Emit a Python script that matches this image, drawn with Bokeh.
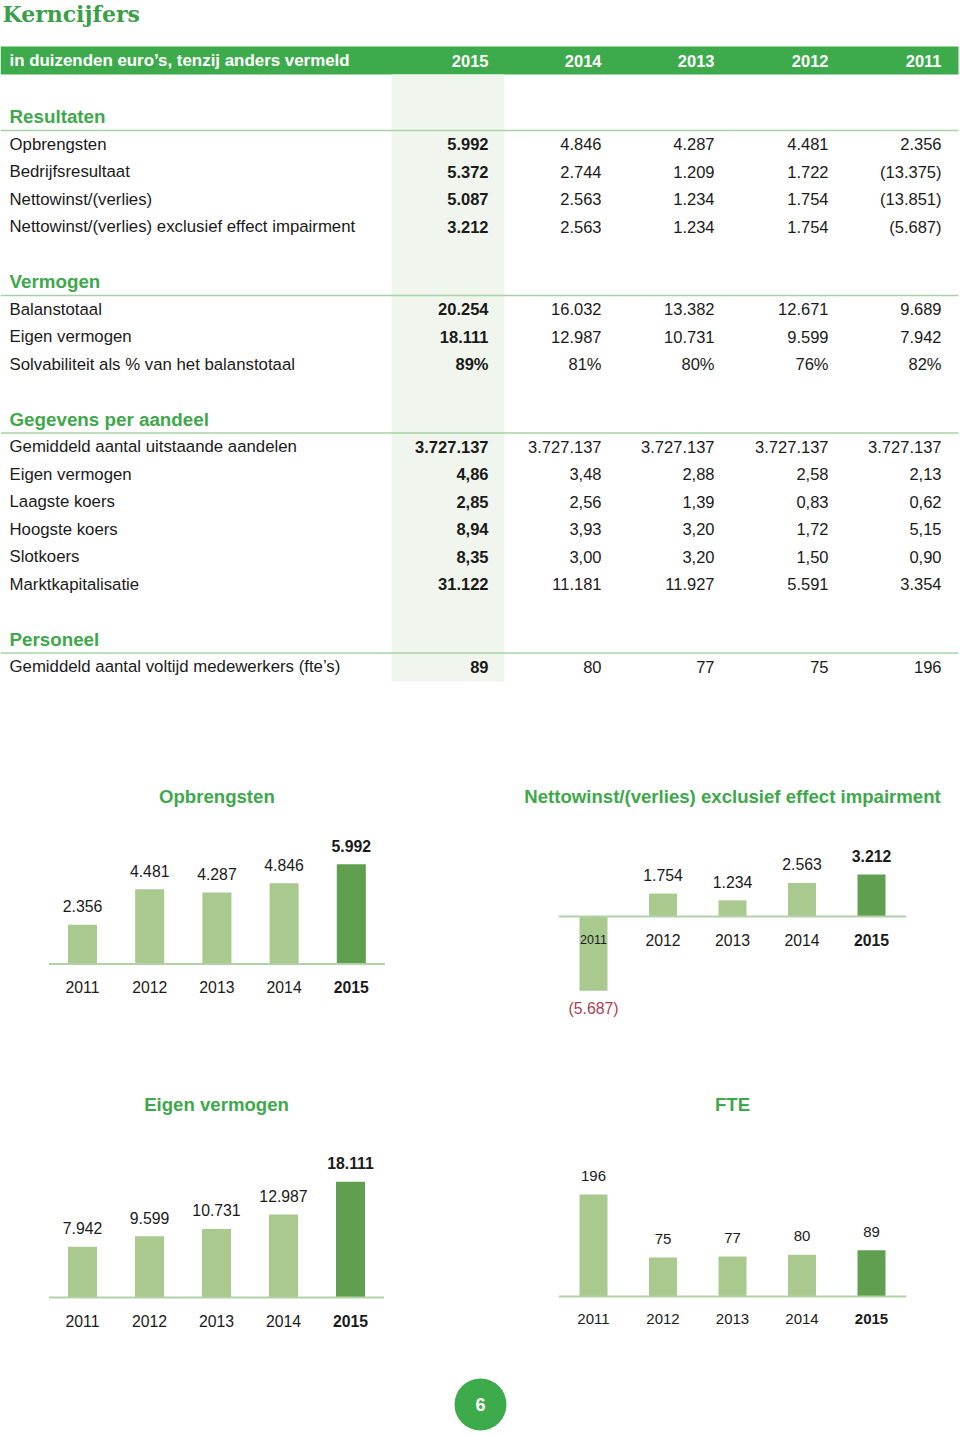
from bokeh.plotting import figure
from bokeh.models import Range1d
from bokeh.layouts import column, row
from bokeh.embed import file_html
from bokeh.resources import INLINE
from bokeh.core.properties import value

# ---------------- data ----------------
header_text = "in duizenden euro’s, tenzij anders vermeld"
table_years = ["2015", "2014", "2013", "2012", "2011"]

sec_resultaten = "Resultaten"
res_labels = ["Opbrengsten", "Bedrijfsresultaat", "Nettowinst/(verlies)",
              "Nettowinst/(verlies) exclusief effect impairment"]
res_values = [["5.992", "4.846", "4.287", "4.481", "2.356"],
              ["5.372", "2.744", "1.209", "1.722", "(13.375)"],
              ["5.087", "2.563", "1.234", "1.754", "(13.851)"],
              ["3.212", "2.563", "1.234", "1.754", "(5.687)"]]

sec_vermogen = "Vermogen"
verm_labels = ["Balanstotaal", "Eigen vermogen", "Solvabiliteit als % van het balanstotaal"]
verm_values = [["20.254", "16.032", "13.382", "12.671", "9.689"],
               ["18.111", "12.987", "10.731", "9.599", "7.942"],
               ["89%", "81%", "80%", "76%", "82%"]]

sec_aandeel = "Gegevens per aandeel"
aand_labels = ["Gemiddeld aantal uitstaande aandelen", "Eigen vermogen", "Laagste koers",
               "Hoogste koers", "Slotkoers", "Marktkapitalisatie"]
aand_values = [["3.727.137", "3.727.137", "3.727.137", "3.727.137", "3.727.137"],
               ["4,86", "3,48", "2,88", "2,58", "2,13"],
               ["2,85", "2,56", "1,39", "0,83", "0,62"],
               ["8,94", "3,93", "3,20", "1,72", "5,15"],
               ["8,35", "3,00", "3,20", "1,50", "0,90"],
               ["31.122", "11.181", "11.927", "5.591", "3.354"]]

sec_personeel = "Personeel"
pers_labels = ["Gemiddeld aantal voltijd medewerkers (fte’s)"]
pers_values = [["89", "80", "77", "75", "196"]]

chart_years = [2011, 2012, 2013, 2014, 2015]
opbrengsten = [2356, 4481, 4287, 4846, 5992]
nettowinst_excl = [-5687, 1754, 1234, 2563, 3212]
eigen_vermogen = [7942, 9599, 10731, 12987, 18111]
fte = [196, 75, 77, 80, 89]

page_number = "6"

# ---------------- style ----------------
FONT = "Liberation Sans"
GREEN = "#3dab4b"
TITLE_GREEN = "#3ea84b"
TEXT = "#1a1a1a"
SHADE = "#f0f6ed"
RULE = "#a7d3a4"
LIGHT = "#a9c98f"
DARK = "#5f9f4f"
BASE = "#b2d1a6"
NEG = "#a8404f"


def mkfig(w, h, x0, x1, y0, y1):
    p = figure(width=w, height=h, x_range=Range1d(x0, x1), y_range=Range1d(y0, y1),
               output_backend="svg", toolbar_location=None,
               x_axis_type=None, y_axis_type=None, min_border=0,
               outline_line_color=None, background_fill_color="white",
               border_fill_color="white")
    p.xgrid.visible = False
    p.ygrid.visible = False
    return p


def txt(p, x, y, t, size="16px", color=TEXT, align="left", bold=False, font=FONT):
    p.text(x=x, y=y, text=t, text_font=value(font), text_font_size=size,
           text_color=color, text_align=align, text_baseline="middle",
           text_font_style="bold" if bold else "normal")


# ---------------- table (page pixel coordinates) ----------------
PAGE_W = 960
TABLE_H = 760
tp = mkfig(PAGE_W, TABLE_H, 0, PAGE_W, TABLE_H, 0)

col_right = [488, 601, 714, 828, 941]
shade_left, shade_right = 391, 504

LABEL_SIZE = "16.8px"
VALUE_SIZE = "16.5px"

# title
txt(tp, [2], [13], ["Kerncijfers"], size="22px", color="#3a9f48", bold=True, font="DejaVu Serif")

# header bar
tp.quad(left=[0], right=[958], top=[46], bottom=[74], fill_color=GREEN, line_color=None)
txt(tp, [9], [60], [header_text], size="16.9px", color="white", bold=True)
txt(tp, col_right, [60] * 5, table_years, size="16.5px", color="white", bold=True, align="right")

# shaded 2015 column
tp.quad(left=[shade_left], right=[shade_right], top=[74], bottom=[681], fill_color=SHADE, line_color=None)

Y0, STEP = 116, 27.5
sections = [(sec_resultaten, res_labels, res_values, 0),
            (sec_vermogen, verm_labels, verm_values, 6),
            (sec_aandeel, aand_labels, aand_values, 11),
            (sec_personeel, pers_labels, pers_values, 19)]

for name, labels, vals, k in sections:
    yh = Y0 + STEP * k
    txt(tp, [9], [yh], [name], size="18.8px", color=TITLE_GREEN, bold=True)
    tp.segment(x0=[0], x1=[958], y0=[yh + 14], y1=[yh + 14], line_color=RULE, line_width=1.5)
    ys = [yh + STEP * (i + 1) for i in range(len(labels))]
    txt(tp, [9] * len(labels), ys, labels, size=LABEL_SIZE)
    for j in range(5):
        txt(tp, [col_right[j]] * len(labels), ys, [v[j] for v in vals], size=VALUE_SIZE,
            align="right", bold=(j == 0))


# ---------------- bar charts ----------------
def fmt(v):
    s = f"{abs(v):,}".replace(",", ".")
    return f"({s})" if v < 0 else s


def bar_chart(title, vals, fig_left, fig_top, w, h, c0, step, base, upp, title_y,
              bar_px=29, year_dy=23, label_dy=18.5, year_size="15.8px", label_size="15.8px",
              first_small=False, last_bold=True):
    xs = chart_years
    x_start = xs[0] - (c0 - fig_left) / step
    x_end = x_start + w / step
    y_end = (base - fig_top) * upp
    y_start = -(fig_top + h - base) * upp
    p = mkfig(w, h, x_start, x_end, y_start, y_end)
    colors = [LIGHT] * (len(xs) - 1) + [DARK]
    p.vbar(x=xs, top=vals, bottom=0, width=bar_px / step, fill_color=colors, line_color=None)
    p.segment(x0=[xs[0] - 0.5], x1=[xs[-1] + 0.5], y0=[0], y1=[0], line_color=BASE, line_width=2)

    # value labels
    pos = [(x, v) for x, v in zip(xs[:-1], vals[:-1])]
    px = [x for x, v in pos if v >= 0]
    py = [v + label_dy * upp for x, v in pos if v >= 0]
    txt(p, px, py, [fmt(v) for x, v in pos if v >= 0], size=label_size, align="center")
    nx = [x for x, v in pos if v < 0]
    if nx:
        ny = [v - 18 * upp for x, v in pos if v < 0]
        txt(p, nx, ny, [fmt(v) for x, v in pos if v < 0], size=label_size, align="center", color=NEG)
    txt(p, [xs[-1]], [vals[-1] + label_dy * upp], [fmt(vals[-1])], size=label_size,
        align="center", bold=last_bold)

    # year labels
    yl = -year_dy * upp
    if first_small:
        txt(p, [xs[0]], [yl], [str(xs[0])], size="12.5px", align="center")
        txt(p, xs[1:-1], [yl] * 3, [str(x) for x in xs[1:-1]], size=year_size, align="center")
    else:
        txt(p, xs[:-1], [yl] * 4, [str(x) for x in xs[:-1]], size=year_size, align="center")
    txt(p, [xs[-1]], [yl], [str(xs[-1])], size=year_size, align="center", bold=True)

    # chart title
    txt(p, [sum(xs) / len(xs)], [(base - title_y) * upp], [title], size="18.6px",
        color=TITLE_GREEN, align="center", bold=True)
    return p


R1_TOP, R1_H = TABLE_H, 280
R2_TOP, R2_H = R1_TOP + R1_H, 310

c1 = bar_chart("Opbrengsten", opbrengsten, 0, R1_TOP, 480, R1_H,
               c0=82, step=67.2, base=963.5, upp=60, title_y=796)
c2 = bar_chart("Nettowinst/(verlies) exclusief effect impairment", nettowinst_excl, 480, R1_TOP, 480, R1_H,
               c0=593, step=69.5, base=916, upp=76.5, title_y=796, bar_px=28, first_small=True)
c3 = bar_chart("Eigen vermogen", eigen_vermogen, 0, R2_TOP, 480, R2_H,
               c0=82, step=67, base=1297, upp=156.5, title_y=1104)
c4 = bar_chart("FTE", fte, 480, R2_TOP, 480, R2_H,
               c0=593, step=69.5, base=1296, upp=1.92, title_y=1104, bar_px=28,
               year_dy=22, year_size="15px", label_size="15px", last_bold=False)

# ---------------- footer ----------------
F_TOP = R2_TOP + R2_H
F_H = 1436 - F_TOP
fp = mkfig(PAGE_W, F_H, 0, PAGE_W, F_TOP + F_H, F_TOP)
fp.scatter(x=[480], y=[1404], size=52, marker="circle", fill_color=GREEN, line_color=None)
txt(fp, [480], [1404], [page_number], size="18px", color="white", align="center", bold=True)

layout = column(tp, row(c1, c2), row(c3, c4), fp)
open("out.html", "w").write(file_html(layout, INLINE))
